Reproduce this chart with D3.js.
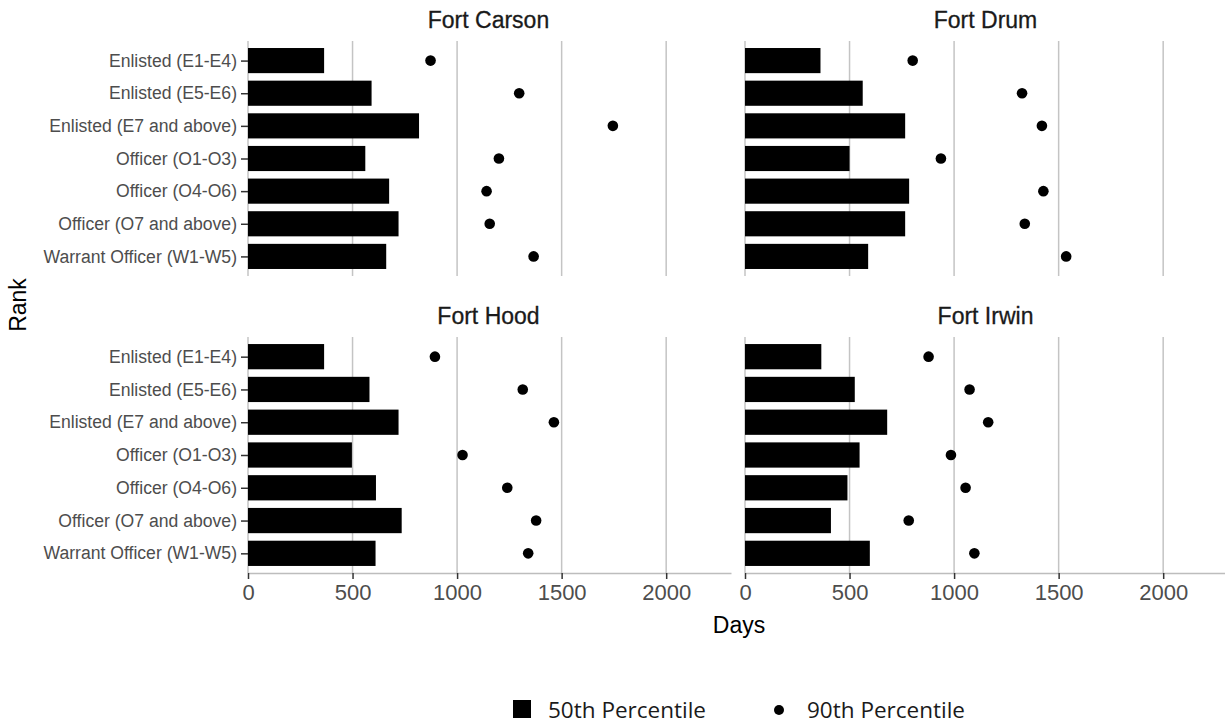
<!DOCTYPE html>
<html><head><meta charset="utf-8">
<script src="https://cdn.jsdelivr.net/npm/d3@7"></script>
<style>body{margin:0;background:#fff}svg{display:block}</style>
</head><body><svg id="c" width="1225" height="724"></svg>
<script>
const ranks = ["Enlisted (E1-E4)","Enlisted (E5-E6)","Enlisted (E7 and above)","Officer (O1-O3)","Officer (O4-O6)","Officer (O7 and above)","Warrant Officer (W1-W5)"];
const forts = ["Fort Carson","Fort Drum","Fort Hood","Fort Irwin"];
const p50Carson = [364, 591, 818, 561, 675, 720, 661];
const p90Carson = [873, 1297, 1745, 1200, 1141, 1156, 1366];
const p50Drum   = [361, 563, 766, 500, 785, 766, 589];
const p90Drum   = [802, 1325, 1420, 937, 1427, 1338, 1536];
const p50Hood   = [364, 581, 720, 497, 612, 735, 610];
const p90Hood   = [894, 1314, 1463, 1026, 1240, 1378, 1340];
const p50Irwin  = [365, 525, 680, 548, 490, 411, 597];
const p90Irwin  = [878, 1074, 1163, 985, 1055, 783, 1097];
const xTicks = [0, 500, 1000, 1500, 2000];
const legendLabels = ["50th Percentile", "90th Percentile"];

const p50s = [p50Carson, p50Drum, p50Hood, p50Irwin];
const p90s = [p90Carson, p90Drum, p90Hood, p90Irwin];

const svg = d3.select("#c");
const cols = [[248, 731], [745, 1228]];
const rows = [[41, 276], [337, 573]];
const xMax = 2310;
const tickFont = "'Liberation Sans', Arial, sans-serif";

forts.forEach((fort, i) => {
  const c = i % 2, r = Math.floor(i / 2);
  const x = d3.scaleLinear().domain([0, xMax]).range(cols[c]);
  const y = d3.scalePoint().domain(ranks).range(rows[r]).padding(0.6);
  const step = y.step();
  const bh = step * 0.77;
  const g = svg.append("g");

  g.selectAll("line.grid").data(xTicks).join("line")
    .attr("x1", d => x(d)).attr("x2", d => x(d))
    .attr("y1", rows[r][0]).attr("y2", rows[r][1])
    .attr("stroke", "#c4c4c4").attr("stroke-width", 1.5);

  g.append("text").attr("x", (cols[c][0] + cols[c][1]) / 2 - 1).attr("y", rows[r][0] - 13)
    .attr("text-anchor", "middle").attr("font-family", tickFont).attr("font-size", 23)
    .attr("fill", "#1a1a1a").attr("stroke", "#1a1a1a").attr("stroke-width", 0.3).text(fort);

  g.selectAll("rect.bar").data(ranks).join("rect")
    .attr("x", x(0)).attr("y", d => y(d) - bh / 2)
    .attr("width", (d, j) => x(p50s[i][j]) - x(0)).attr("height", bh)
    .attr("fill", "#000");

  g.selectAll("circle.dot").data(ranks).join("circle")
    .attr("cx", (d, j) => x(p90s[i][j])).attr("cy", d => y(d)).attr("r", 5.3)
    .attr("fill", "#000");

  if (c === 0) {
    const ya = g.append("g").attr("transform", `translate(${cols[c][0]},0)`)
      .call(d3.axisLeft(y).tickSize(7).tickPadding(4));
    ya.select(".domain").remove();
    ya.selectAll(".tick line").attr("stroke", "#333").attr("stroke-width", 1.5);
    ya.selectAll(".tick text").attr("font-family", tickFont).attr("font-size", 17.6)
      .attr("fill", "#4d4d4d");
  }
  if (r === 1) {
    const xa = g.append("g").attr("transform", `translate(0,${rows[r][1]})`)
      .call(d3.axisBottom(x).tickValues(xTicks).tickFormat(d3.format("d")).tickSize(6).tickPadding(5).tickSizeOuter(0));
    xa.select(".domain").attr("stroke", "#bdbdbd").attr("stroke-width", 1.5);
    xa.selectAll(".tick line").attr("stroke", "#333").attr("stroke-width", 1.5);
    xa.selectAll(".tick text").attr("font-family", tickFont).attr("font-size", 22)
      .attr("fill", "#4d4d4d");
  }
});

svg.append("text").attr("x", 739).attr("y", 633).attr("text-anchor", "middle")
  .attr("font-family", tickFont).attr("font-size", 23).attr("fill", "#000").text("Days");
svg.append("text").attr("transform", "translate(26,305) rotate(-90)").attr("text-anchor", "middle")
  .attr("font-family", tickFont).attr("font-size", 23).attr("fill", "#000").text("Rank");

const lg = svg.append("g");
lg.append("rect").attr("x", 513).attr("y", 700).attr("width", 18).attr("height", 18).attr("fill", "#000");
lg.append("text").attr("x", 548).attr("y", 718).attr("font-family", "'Open Sans', sans-serif")
  .attr("font-size", 22.5).attr("fill", "#1a1a1a").text(legendLabels[0]);
lg.append("circle").attr("cx", 779).attr("cy", 710).attr("r", 5).attr("fill", "#000");
lg.append("text").attr("x", 807).attr("y", 718).attr("font-family", "'Open Sans', sans-serif")
  .attr("font-size", 22.5).attr("fill", "#1a1a1a").text(legendLabels[1]);
</script></body></html>
